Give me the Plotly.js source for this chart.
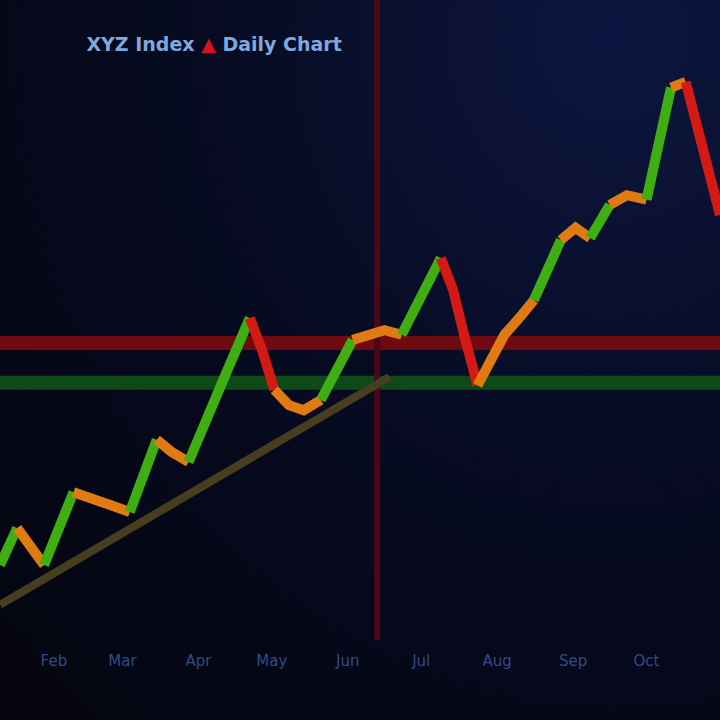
<!DOCTYPE html>
<html>
<head>
<meta charset="utf-8">
<script src="https://cdn.plot.ly/plotly-3.0.1.min.js"></script>
<style>
  html, body { margin: 0; padding: 0; width: 720px; height: 720px; overflow: hidden;
    background: radial-gradient(ellipse at 85% 5%, #0d1640 0%, #070b22 45%, #04050f 100%); }
  #chart { width: 720px; height: 720px; }
</style>
</head>
<body>
<div id="chart"></div>
<script>
// ---- data ----
const dates = [
  "2023-01-10","2023-01-17","2023-01-23","2023-01-28","2023-02-03","2023-02-09",
  "2023-02-16","2023-02-24","2023-03-04","2023-03-10","2023-03-15","2023-03-21",
  "2023-03-28","2023-04-04","2023-04-12","2023-04-22","2023-04-27","2023-05-02",
  "2023-05-08","2023-05-14","2023-05-21","2023-05-28","2023-06-03","2023-06-09",
  "2023-06-16","2023-06-23","2023-06-30","2023-07-09","2023-07-14","2023-07-19",
  "2023-07-24","2023-07-30","2023-08-04","2023-08-10","2023-08-16","2023-08-22",
  "2023-08-27","2023-09-02","2023-09-08","2023-09-16","2023-09-23","2023-10-01",
  "2023-10-06","2023-10-11","2023-10-17","2023-10-22","2023-10-26","2023-10-31"
];
const prices = [
  91.7, 97.5, 94.4, 91.7, 97.2, 103.1,
  102.3, 101.1, 100.0, 105.8, 111.3, 109.4,
  107.8, 114.4, 121.4, 130.3, 125.3, 119.1,
  116.7, 115.9, 117.5, 122.2, 126.9, 127.7,
  128.4, 127.7, 133.1, 139.7, 134.7, 126.9,
  119.8, 123.8, 127.7, 130.3, 133.1, 137.8,
  142.5, 144.4, 142.8, 148.0, 149.5, 148.8,
  158.1, 166.3, 167.2, 159.7, 152.7, 146.4
];
const resistanceLevel = 126.4;
const supportLevel = 120.2;
const markerDate = "2023-06-13";
const trendDates = ["2023-01-10", "2023-06-18"];
const trendValues = [85.5, 121.1];
const tickDates = ["2023-02-01","2023-03-01","2023-04-01","2023-05-01","2023-06-01",
                   "2023-07-01","2023-08-01","2023-09-01","2023-10-01"];
const tickLabels = ["Feb","Mar","Apr","May","Jun","Jul","Aug","Sep","Oct"];
const moveThreshold = 4;

// ---- build colored segments ----
const GREEN = "#3fae12", ORANGE = "#e07a12", RED = "#d41a14";
function segColor(d) {
  if (d > moveThreshold) return GREEN;
  if (d < -moveThreshold) return RED;
  return ORANGE;
}
const traces = [];
traces.push({
  x: trendDates, y: trendValues, mode: "lines", type: "scatter",
  line: { color: "#463e1e", width: 8 }, hoverinfo: "skip", showlegend: false
});
let cur = null;
const groups = [];
for (let i = 1; i < prices.length; i++) {
  const c = segColor(prices[i] - prices[i - 1]);
  if (!cur || cur.color !== c) {
    cur = { color: c, x: [dates[i - 1]], y: [prices[i - 1]] };
    groups.push(cur);
  }
  cur.x.push(dates[i]); cur.y.push(prices[i]);
}
groups.forEach(g => traces.push({
  x: g.x, y: g.y, type: "scatter", mode: "lines",
  line: { color: g.color, width: 10, shape: "linear" },
  showlegend: false, hoverinfo: "skip"
}));

const layout = {
  width: 720, height: 720,
  margin: { l: 0, r: 0, t: 0, b: 80 },
  paper_bgcolor: "rgba(0,0,0,0)",
  plot_bgcolor: "rgba(0,0,0,0)",
  showlegend: false,
  title: {
    text: "XYZ Index <span style='color:#d8101c'>▲</span> Daily Chart",
    x: 0.12, xanchor: "left", y: 0.938, yanchor: "middle",
    font: { family: "DejaVu Sans", size: 19, color: "#7fa8dc", weight: "bold" }
  },
  xaxis: {
    type: "date",
    range: ["2023-01-10", "2023-10-31"],
    tickvals: tickDates, ticktext: tickLabels,
    showgrid: false, zeroline: false, showline: false,
    tickfont: { family: "DejaVu Sans", size: 15, color: "#2f4c86" },
    ticks: "", ticklabelstandoff: 10
  },
  yaxis: {
    range: [80, 180], showgrid: false, zeroline: false, showticklabels: false
  },
  shapes: [
    { type: "line", xref: "paper", x0: 0, x1: 1, yref: "y", y0: resistanceLevel, y1: resistanceLevel,
      line: { color: "#6e0a10", width: 14 }, layer: "below" },
    { type: "line", xref: "paper", x0: 0, x1: 1, yref: "y", y0: supportLevel, y1: supportLevel,
      line: { color: "#0d4a18", width: 14 }, layer: "below" },
    { type: "line", xref: "x", x0: markerDate, x1: markerDate, yref: "paper", y0: 0, y1: 1,
      line: { color: "#4a0816", width: 6 }, layer: "below" }
  ]
};

Plotly.newPlot("chart", traces, layout, { displayModeBar: false, staticPlot: true });
</script>
</body>
</html>
